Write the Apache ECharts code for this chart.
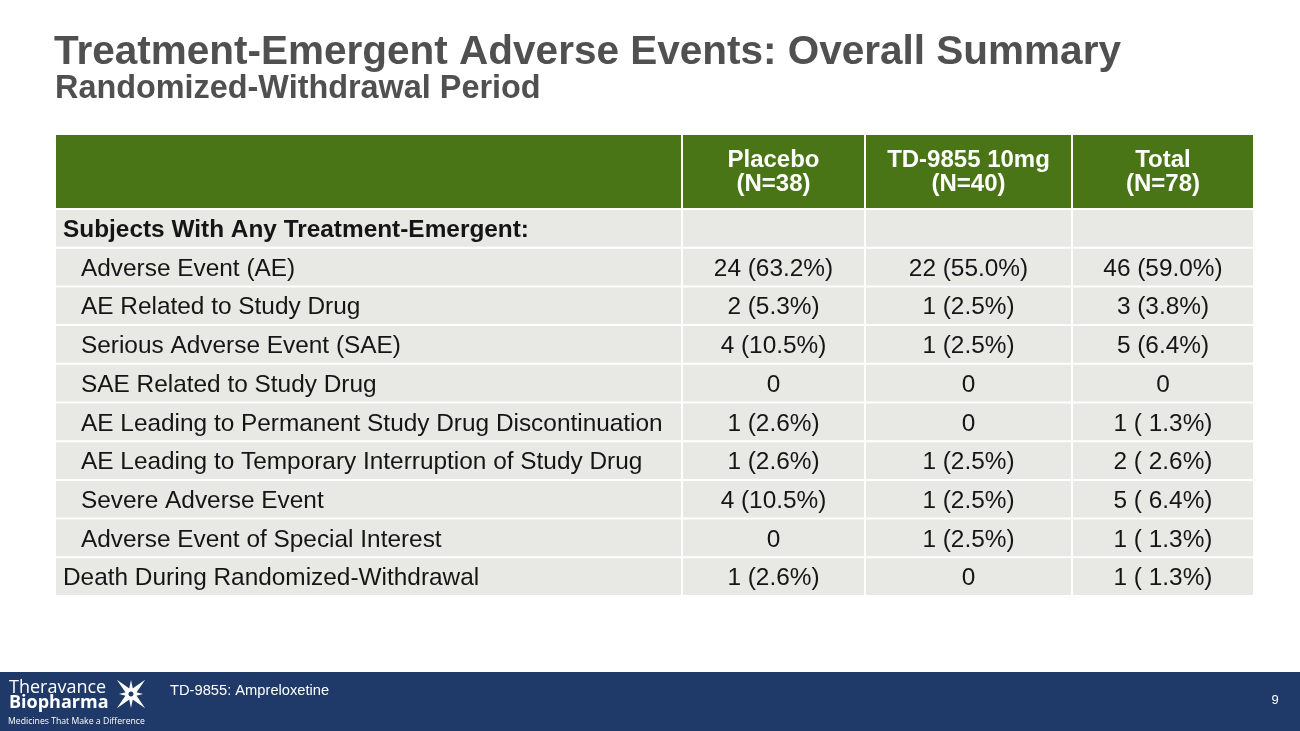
<!DOCTYPE html>
<html>
<head>
<meta charset="utf-8">
<title>Treatment-Emergent Adverse Events: Overall Summary</title>
<script src="https://cdn.jsdelivr.net/npm/echarts@6/dist/echarts.min.js"></script>
<style>
  html, body { margin: 0; padding: 0; background: #fff; }
  #main { width: 1300px; height: 731px; }
</style>
</head>
<body>
<div id="main"></div>
<script>
// ---- table content ----
const columnHeaders = ['', 'Placebo\n(N=38)', 'TD-9855 10mg\n(N=40)', 'Total\n(N=78)'];
const rowLabels = [
  'Subjects With Any Treatment-Emergent:',
  'Adverse Event (AE)',
  'AE Related to Study Drug',
  'Serious Adverse Event (SAE)',
  'SAE Related to Study Drug',
  'AE Leading to Permanent Study Drug Discontinuation',
  'AE Leading to Temporary Interruption of Study Drug',
  'Severe Adverse Event',
  'Adverse Event of Special Interest',
  'Death During Randomized-Withdrawal'
];
const rowLevel = [0, 1, 1, 1, 1, 1, 1, 1, 1, 0];   // 0 = flush, 1 = indented
const headingRows = [0];                           // bold section heading
const placeboVals = ['', '24 (63.2%)', '2 (5.3%)', '4 (10.5%)', '0', '1 (2.6%)', '1 (2.6%)', '4 (10.5%)', '0', '1 (2.6%)'];
const td9855Vals  = ['', '22 (55.0%)', '1 (2.5%)', '1 (2.5%)', '0', '0', '1 (2.5%)', '1 (2.5%)', '1 (2.5%)', '0'];
const totalVals   = ['', '46 (59.0%)', '3 (3.8%)', '5 (6.4%)', '0', '1 ( 1.3%)', '2 ( 2.6%)', '5 ( 6.4%)', '1 ( 1.3%)', '1 ( 1.3%)'];

// ---- layout ----
const tableWidth = 1197;
const colEdges = [0, 626, 809, 1016, 1197];
const font = '"Liberation Sans", Arial, Helvetica, sans-serif';
const logoFont = '"Open Sans", "Noto Sans", sans-serif';
const green = '#4a7516';
const grey = '#e8e9e5';

function cellText(c, r) {
  if (c === 0) return rowLabels[r];
  return [placeboVals, td9855Vals, totalVals][c - 1][r];
}

function renderCell(isHeader) {
  return function (params, api) {
    const c = api.value(0), r = api.value(1);
    const p0 = api.coord([colEdges[c], r]);
    const p1 = api.coord([colEdges[c + 1], r]);
    const band = api.size([0, 1])[1];
    const x = p0[0] + (c > 0 ? 1 : 0);
    const w = p1[0] - x - (c < 3 ? 1 : 0);
    const inset = isHeader ? 0 : 1;
    const y = p0[1] - band / 2 + inset;
    const h = band - inset * 2;
    let text, tx, align, weight, size;
    if (isHeader) {
      text = columnHeaders[c];
      tx = x + w / 2; align = 'center'; weight = 'bold'; size = 24;
    } else {
      text = cellText(c, r);
      if (c === 0) {
        tx = x + 7 + rowLevel[r] * 18; align = 'left';
      } else {
        tx = x + w / 2; align = 'center';
      }
      weight = headingRows.indexOf(r) >= 0 ? 'bold' : 'normal';
      size = 24.4;
    }
    return {
      type: 'group',
      children: [
        { type: 'rect', shape: { x: x, y: y, width: w, height: h }, style: { fill: isHeader ? green : grey } },
        {
          type: 'text',
          style: {
            text: text, x: tx, y: p0[1] + (isHeader ? 1 : 2), align: align, verticalAlign: 'middle',
            fontFamily: font, fontSize: size, fontWeight: weight, lineHeight: 24,
            fill: isHeader ? '#ffffff' : '#151515'
          }
        }
      ]
    };
  };
}

const headerData = columnHeaders.map((t, c) => [c, 0]);
const bodyData = [];
rowLabels.forEach((lab, r) => {
  for (let c = 0; c < 4; c++) bodyData.push([c, r]);
});

// logo star spikes
function starSpikes(cx, cy) {
  const out = [];
  const spikes = [
    [-135, 20], [-45, 20], [135, 20], [45, 20],
    [-90, 14], [90, 14], [0, 12], [180, 12]
  ];
  spikes.forEach(([deg, len]) => {
    const a = deg * Math.PI / 180;
    const dx = Math.cos(a), dy = Math.sin(a);
    const px = -dy, py = dx;
    const d = 2.5, hw = len > 15 ? 3.2 : 2.4;
    out.push({
      type: 'polygon',
      shape: { points: [
        [cx + dx * d + px * hw, cy + dy * d + py * hw],
        [cx + dx * len, cy + dy * len],
        [cx + dx * d - px * hw, cy + dy * d - py * hw]
      ] },
      style: { fill: '#ffffff' }
    });
  });
  return out;
}

const myChart = echarts.init(document.getElementById('main'));
const option = {
  animation: false,
  backgroundColor: '#ffffff',
  grid: [
    { left: 56, width: tableWidth, top: 135, height: 73 },
    { left: 56, width: tableWidth, top: 209, height: 387 }
  ],
  xAxis: [
    { gridIndex: 0, type: 'value', min: 0, max: tableWidth, show: false },
    { gridIndex: 1, type: 'value', min: 0, max: tableWidth, show: false }
  ],
  yAxis: [
    { gridIndex: 0, type: 'category', data: ['header'], inverse: true, show: false },
    { gridIndex: 1, type: 'category', data: rowLabels, inverse: true, show: false }
  ],
  series: [
    { type: 'custom', xAxisIndex: 0, yAxisIndex: 0, data: headerData, renderItem: renderCell(true), silent: true },
    { type: 'custom', xAxisIndex: 1, yAxisIndex: 1, data: bodyData, renderItem: renderCell(false), silent: true }
  ],
  graphic: [
    {
      type: 'text', left: 54, top: 32,
      style: { text: 'Treatment-Emergent Adverse Events: Overall Summary', fontFamily: font, fontSize: 40.5, fontWeight: 'bold', fill: '#505050' }
    },
    {
      type: 'text', left: 55, top: 73,
      style: { text: 'Randomized-Withdrawal Period', fontFamily: font, fontSize: 32.4, fontWeight: 'bold', fill: '#505050' }
    },
    { type: 'rect', shape: { x: 0, y: 672, width: 1300, height: 59 }, style: { fill: '#1f3a68' } },
    {
      type: 'text', x: 9, y: 688,
      style: { text: 'Theravance', fontFamily: logoFont, fontSize: 18, fill: '#ffffff', verticalAlign: 'middle' }
    },
    {
      type: 'text', x: 9, y: 703,
      style: { text: 'Biopharma', fontFamily: logoFont, fontSize: 18, fontWeight: 'bold', fill: '#ffffff', verticalAlign: 'middle' }
    },
    {
      type: 'text', x: 8, y: 722,
      style: { text: 'Medicines That Make a Difference', fontFamily: logoFont, fontSize: 8.7, fill: '#ffffff', verticalAlign: 'middle' }
    },
    { type: 'group', children: starSpikes(131, 694) },
    {
      type: 'text', x: 170, y: 691,
      style: { text: 'TD-9855: Ampreloxetine', fontFamily: font, fontSize: 14.7, fill: '#ffffff', verticalAlign: 'middle' }
    },
    {
      type: 'text', x: 1275, y: 700,
      style: { text: '9', fontFamily: font, fontSize: 13, fill: '#ffffff', align: 'center', verticalAlign: 'middle' }
    }
  ]
};
myChart.setOption(option);
</script>
</body>
</html>
